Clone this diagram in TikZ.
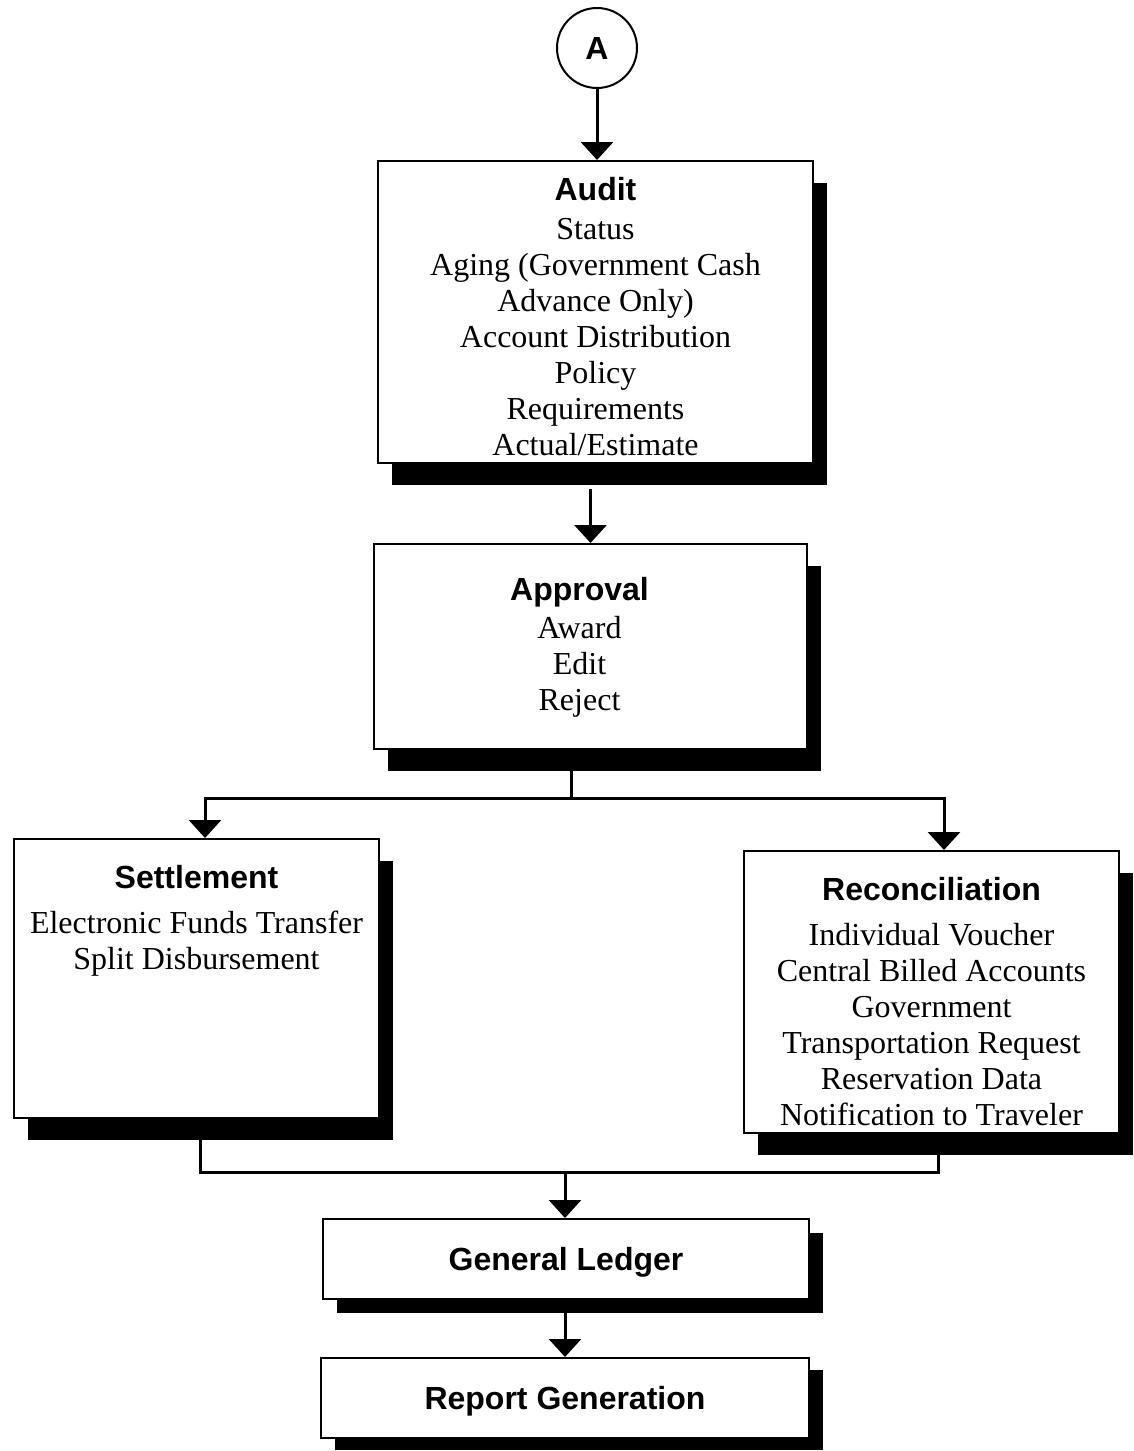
\documentclass[tikz,border=0pt]{standalone}
\usepackage{fontspec}
\setmainfont{Liberation Serif}
\setsansfont{Liberation Sans}
\usetikzlibrary{arrows.meta,shadows}
\newcommand{\hd}{\sffamily\bfseries\fontsize{16}{18}\selectfont}

\tikzset{
  box/.style={draw, line width=1pt, fill=white, inner sep=0pt, anchor=north west,
    drop shadow={shadow xshift=7pt, shadow yshift=#1, fill=black, opacity=1}},
  box/.default=-11pt,
  body/.style={inner sep=0pt, align=center, font=\fontsize{16}{18}\selectfont},
  conn/.style={draw, circle, line width=1pt, minimum size=40pt, inner sep=0pt, font=\hd},
  link/.style={line width=1.5pt, -{Triangle[width=16pt,length=9pt]}},
  wire/.style={line width=1.5pt}
}

\begin{document}
\begin{tikzpicture}[x=0.5pt, y=-0.5pt]
    \useasboundingbox (0,0) rectangle (1134,1451);

    % Caixas
    \node[conn] (A) at (597,48) {A};
    \node[box, minimum width=217.5pt, minimum height=151pt] (audit) at (377,160) {};
    \node[box, minimum width=216.5pt, minimum height=102.5pt] (approval) at (373,543) {};
    \node[box, minimum width=182.5pt, minimum height=139.5pt] (settle) at (13,838) {};
    \node[box, minimum width=187.5pt, minimum height=141pt] (recon) at (743,850) {};
    \node[box=-7pt, minimum width=243pt, minimum height=40pt, font=\hd,
          text depth=-2pt] (ledger) at (322,1218) {General Ledger};
    \node[box=-6pt, minimum width=244pt, minimum height=40pt, font=\hd,
          text depth=-1pt] (report) at (320,1357) {Report Generation};

    % Textos
    \node[body, anchor=north] (audittxt) at ([yshift=-8.5pt]audit.north)
        {{\hd Audit}\\[1.5pt] Status\\ Aging (Government Cash\\ Advance Only)\\
         Account Distribution\\ Policy\\ Requirements\\ Actual/Estimate};
    \node[body, anchor=north] (approvaltxt) at ([xshift=-5.5pt, yshift=-17pt]approval.north)
        {{\hd Approval}\\[1pt] Award\\ Edit\\ Reject};
    \node[body, anchor=north] (settletxt) at ([yshift=-13.5pt]settle.north)
        {{\hd Settlement}\\[4.5pt] Electronic Funds Transfer\\ Split Disbursement};
    \node[body, anchor=north] (recontxt) at ([yshift=-13.5pt]recon.north)
        {{\hd Reconciliation}\\[4.5pt] Individual Voucher\\ Central Billed Accounts\\ Government\\
         Transportation Request\\ Reservation Data\\ Notification to Traveler};

    % Pontos de ramificacao
    \coordinate (split) at (571,798);
    \coordinate (splitL) at (205,798);
    \coordinate (splitR) at (944,798);
    \coordinate (merge) at (565,1172);
    \coordinate (mergeL) at (200,1172);
    \coordinate (mergeR) at (938,1172);

    % Setas
    \draw[link] (A.south) -- (A.south |- audit.north);
    \draw[link] (audit.south -| approval.north) ++(0,25) -- (approval.north);
    \draw[wire] (approval.south -| split) -- (split);
    \draw[wire, line cap=rect] (splitL) -- (splitR);
    \draw[link] (splitL) -- (splitL |- settle.north);
    \draw[link] (splitR) -- (splitR |- recon.north);
    \draw[wire, line join=miter] (settle.south -| mergeL) -- (mergeL) -- (mergeR) -- (recon.south -| mergeR);
    \draw[link] (merge) -- (merge |- ledger.north);
    \draw[link] (ledger.south -| merge) -- (report.north -| merge);
\end{tikzpicture}
\end{document}
